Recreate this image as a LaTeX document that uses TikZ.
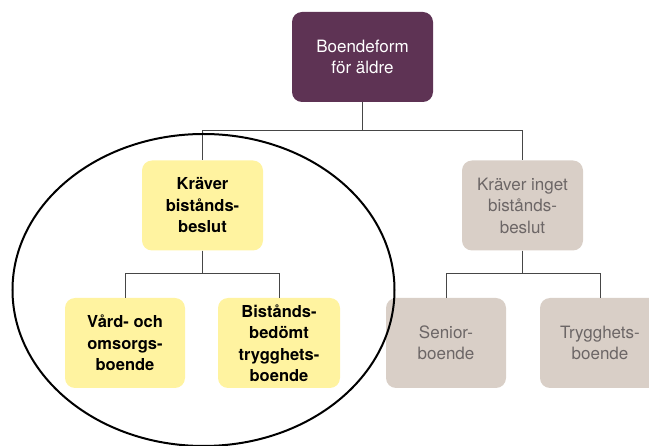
\documentclass[tikz,border=0pt]{standalone}
\usepackage{fontspec}
\setmainfont{TeX Gyre Heros}
\usepackage{xcolor}
\usepackage{tikz}
\usetikzlibrary{positioning, calc}
\definecolor{plum}{RGB}{94, 51, 84}
\definecolor{straw}{RGB}{255, 243, 160}
\definecolor{sand}{RGB}{217, 207, 199}
\definecolor{greytext}{RGB}{108, 102, 102}
\definecolor{wire}{RGB}{70, 70, 70}
\tikzstyle{box} = [rectangle, rounded corners=10pt, minimum width=121pt, minimum height=90pt, text centered, align=center, inner sep=2pt, font=\fontsize{17}{21.5}\selectfont]
\tikzstyle{rootbox} = [box, minimum width=141pt, fill=plum, text=white]
\tikzstyle{needbox} = [box, fill=straw, font=\fontsize{16.5}{21.5}\selectfont\bfseries]
\tikzstyle{freebox} = [box, fill=sand, text=greytext]
\tikzstyle{link} = [wire, line width=1pt]

\begin{document}
\begin{tikzpicture}[x=1pt, y=-1pt]
    \useasboundingbox (0,0) rectangle (649,446);

    % Top level
    \node[rootbox] (root) at (362.5, 57) {Boendeform\\för äldre};

    % Second level
    \node[needbox] (req) at (202.5, 205.5) {Kräver\\bistånds-\\beslut};
    \node[freebox] (noreq) at (522.5, 205.5) {Kräver inget\\bistånds-\\beslut};

    % Third level
    \node[needbox, minimum width=120pt] (vard) at (125, 343) {Vård- och\\omsorgs-\\boende};
    \node[needbox, minimum width=122pt] (trygg) at (279, 343) {Bistånds-\\bedömt\\trygghets-\\boende};
    \node[freebox, minimum width=120pt] (senior) at (446, 343) {Senior-\\boende};
    \node[freebox, minimum width=120pt] (tryggfree) at (600, 343) {Trygghets-\\boende};

    % Connectors
    \draw[link] (root.south) -- ++(0,28) -| (req.north);
    \draw[link] (root.south) -- ++(0,28) -| (noreq.north);
    \draw[link] (req.south) -- ++(0,23) -| (vard.north);
    \draw[link] (req.south) -- ++(0,23) -| (trygg.north);
    \draw[link] (noreq.south) -- ++(0,23) -| (senior.north);
    \draw[link] (noreq.south) -- ++(0,23) -| (tryggfree.north);

    % Ring around the needs-based branch
    \draw[black, line width=2pt] (203.5, 290) ellipse (191 and 156);
\end{tikzpicture}
\end{document}
